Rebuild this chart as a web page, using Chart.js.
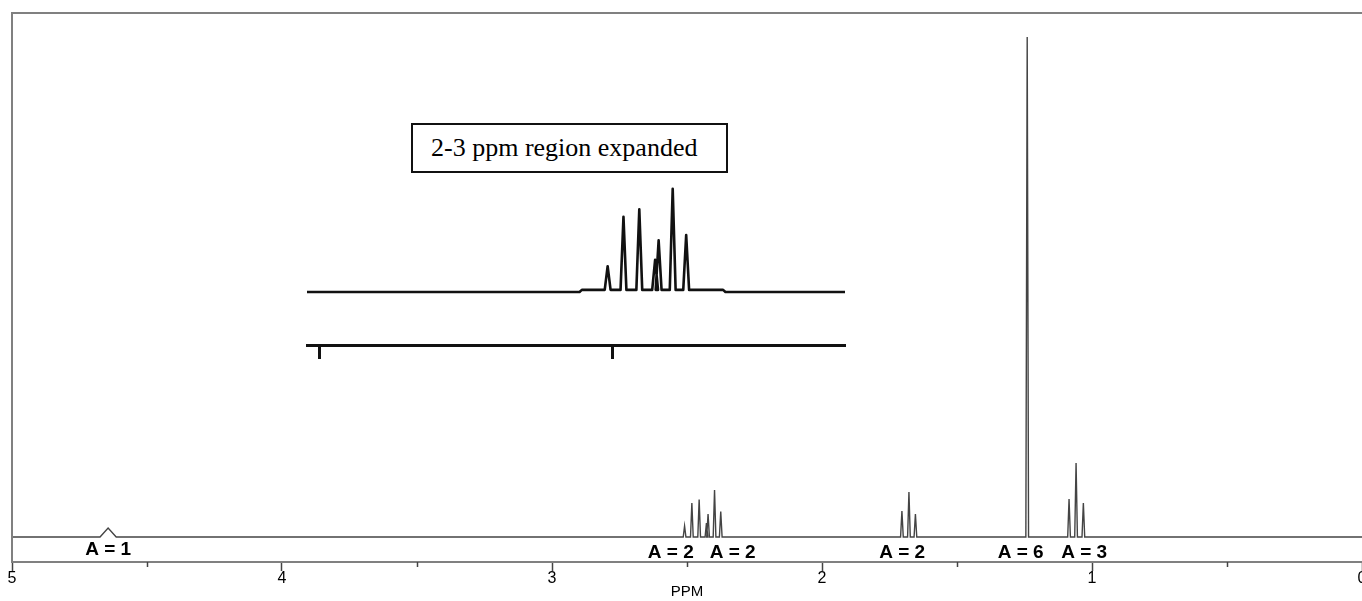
<!DOCTYPE html>
<html>
<head>
<meta charset="utf-8">
<script src="https://cdn.jsdelivr.net/npm/chart.js@4.4.0/dist/chart.umd.min.js"></script>
<style>
  html, body { margin: 0; padding: 0; background: #fff; overflow: hidden; width: 1362px; height: 601px; }
  #spectrum { position: absolute; left: -20px; top: 0; }
  #inset { position: absolute; left: 300px; top: 180px; }
  #insetBox {
    position: absolute; left: 411px; top: 123px; width: 317px; height: 50px;
    box-sizing: border-box; border: 2px solid #111; background: #fff; color: #000;
    font: 26px "Liberation Serif", "Times New Roman", serif; line-height: 46px;
    padding-left: 18px; white-space: nowrap;
  }
</style>
</head>
<body>
<canvas id="spectrum" width="1400" height="601"></canvas>
<canvas id="inset" width="560" height="190"></canvas>
<div id="insetBox">2-3 ppm region expanded</div>
<script>
// lines of the spectrum (ppm, height above baseline, half width in ppm)
const peakPpm       = [4.644, 2.509, 2.482, 2.455, 2.428, 2.422, 2.398, 2.375, 1.704, 1.678, 1.654, 1.240, 1.085, 1.059, 1.032]
const peakHeight    = [9, 11, 34, 37.5, 14, 23, 47, 25.5, 26, 45, 23, 500, 38, 74, 34]
const peakHalfWidth = [0.03, 0.005, 0.005, 0.005, 0.005, 0.005, 0.005, 0.005, 0.005, 0.005, 0.005, 0.005, 0.005, 0.005, 0.005]

// integration labels under the signals
const integralText  = ['A = 1', 'A = 2', 'A = 2', 'A = 2', 'A = 6', 'A = 3']
const integralPpm   = [4.644, 2.560, 2.331, 1.703, 1.264, 1.029]
const integralLevel = [-13, -16, -16, -16, -16, -16]

// axis ticks
const majorTicks = [5, 4, 3, 2, 1, 0]
const minorTicks = [4.5, 3.5, 2.5, 1.5, 0.5]

// expansion of the 2-3 ppm region
const insetRange = [2.104, 3.022]
const insetTicks = [3, 2.5]
const insetShelf = [2.553, 2.312]   // slightly raised baseline around the multiplet
const insetShelfLevel = 1

function buildTrace(lo, hi, shelf, shelfLevel) {
  const base = p => (shelf && p <= shelf[0] && p >= shelf[1]) ? shelfLevel : 0
  const pts = [{x: hi, y: 0}]
  if (shelf) pts.push({x: shelf[0] + 0.004, y: 0}, {x: shelf[0], y: shelfLevel})
  peakPpm.forEach((p, i) => {
    if (p < lo || p > hi) return
    const b = base(p)
    pts.push({x: p + peakHalfWidth[i], y: b}, {x: p, y: b + peakHeight[i]}, {x: p - peakHalfWidth[i], y: b})
  })
  if (shelf) pts.push({x: shelf[1], y: shelfLevel}, {x: shelf[1] - 0.004, y: 0})
  pts.push({x: lo, y: 0})
  return pts
}

const sans = "'Liberation Sans', Arial, sans-serif"

const framePlugin = {
  id: 'frame',
  afterDraw(chart) {
    const {ctx, chartArea: a, scales: {x, y}} = chart
    ctx.save()
    ctx.strokeStyle = '#808080'
    ctx.lineWidth = 2
    ctx.beginPath()
    ctx.moveTo(a.left, a.bottom)
    ctx.lineTo(a.left, a.top)
    ctx.lineTo(a.right + 4, a.top)
    ctx.stroke()

    ctx.lineWidth = 1.5
    ctx.strokeStyle = '#444'
    minorTicks.forEach(v => {
      const px = Math.round(x.getPixelForValue(v)) + 0.5
      ctx.beginPath()
      ctx.moveTo(px, x.top)
      ctx.lineTo(px, x.top + 5)
      ctx.stroke()
    })

    ctx.fillStyle = '#000'
    ctx.font = 'bold 19px ' + sans
    ctx.textAlign = 'center'
    ctx.textBaseline = 'middle'
    integralText.forEach((t, i) => {
      ctx.fillText(t, x.getPixelForValue(integralPpm[i]), y.getPixelForValue(integralLevel[i]))
    })
    ctx.restore()
  }
}

new Chart(document.getElementById('spectrum'), {
  type: 'line',
  data: {
    datasets: [{
      data: buildTrace(0, 5),
      borderColor: '#444',
      borderWidth: 1.4,
      pointRadius: 0,
      tension: 0,
      fill: false
    }]
  },
  options: {
    responsive: false,
    animation: false,
    events: [],
    layout: { padding: { left: 32, right: 18, top: 13, bottom: 0 } },
    plugins: { legend: { display: false }, tooltip: { enabled: false } },
    scales: {
      x: {
        type: 'linear', reverse: true, min: 0, max: 5,
        afterFit: s => { s.height = 39 },
        afterBuildTicks: s => { s.ticks = majorTicks.map(v => ({value: v})) },
        border: { color: '#808080', width: 2 },
        grid: { drawOnChartArea: false, tickLength: 9, tickColor: '#444', tickWidth: 1.5 },
        ticks: { color: '#000', font: { family: sans, size: 16 }, padding: -2, maxRotation: 0, autoSkip: false, callback: v => String(v) },
        title: { display: true, text: 'PPM', color: '#000', font: { family: sans, size: 15 }, padding: 0 }
      },
      y: { display: false, min: -25, max: 524 }
    }
  },
  plugins: [framePlugin]
})

new Chart(document.getElementById('inset'), {
  type: 'line',
  data: {
    datasets: [{
      data: buildTrace(insetRange[0], insetRange[1], insetShelf, insetShelfLevel),
      borderColor: '#111',
      borderWidth: 2.6,
      borderJoinStyle: 'round',
      pointRadius: 0,
      tension: 0,
      fill: false
    }]
  },
  options: {
    responsive: false,
    animation: false,
    events: [],
    layout: { padding: { left: 7, right: 15, top: 0, bottom: 0 } },
    plugins: { legend: { display: false }, tooltip: { enabled: false } },
    scales: {
      x: {
        type: 'linear', reverse: true, min: insetRange[0], max: insetRange[1],
        afterFit: s => { s.height = 25 },
        afterBuildTicks: s => { s.ticks = insetTicks.map(v => ({value: v})) },
        border: { color: '#111', width: 3 },
        grid: { drawOnChartArea: false, tickLength: 14, tickColor: '#111', tickWidth: 3 },
        ticks: { display: false }
      },
      y: { display: false, min: -24.65, max: 52.1 }
    }
  }
})
</script>
</body>
</html>
